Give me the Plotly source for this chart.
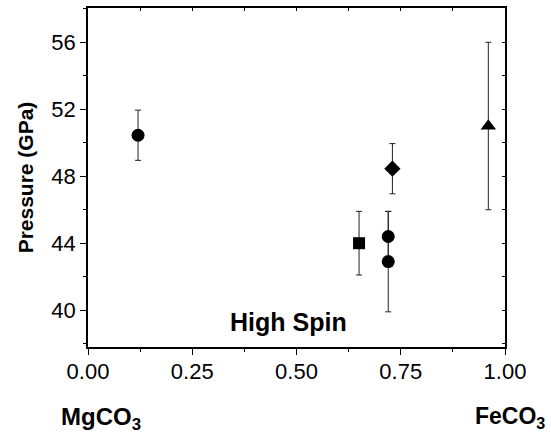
import plotly.graph_objects as go

# Data (x = Fe fraction, y = pressure in GPa)
circle_x = [0.12, 0.72, 0.72]
circle_y = [50.45, 44.4, 42.9]
circle_err = [1.5, 1.5, 3.0]

square_x = [0.65]
square_y = [44.0]
square_err = [1.9]

diamond_x = [0.73]
diamond_y = [48.45]
diamond_err = [1.5]

triangle_x = [0.96]
triangle_y = [51.0]
triangle_err = [5.0]

x_ticks = [0.0, 0.25, 0.5, 0.75, 1.0]
x_ticklabels = ["0.00", "0.25", "0.50", "0.75", "1.00"]
y_ticks = [40, 44, 48, 52, 56]

FONT = "Liberation Sans, Arial, sans-serif"

fig = go.Figure()

def add_series(xs, ys, errs, symbol, size):
    fig.add_trace(go.Scatter(
        x=xs, y=ys, mode="markers",
        marker=dict(symbol=symbol, size=size, color="black", line=dict(width=0)),
        error_y=dict(type="data", array=errs, visible=True, color="#222",
                     thickness=1, width=3),
        showlegend=False,
    ))

add_series(circle_x, circle_y, circle_err, "circle", 13)
add_series(square_x, square_y, square_err, "square", 12)
add_series(diamond_x, diamond_y, diamond_err, "diamond", 12.5)
add_series(triangle_x, triangle_y, triangle_err, "triangle-up", 13.5)

# empty trace so the mirrored frame axes (top/right) are drawn
fig.add_trace(go.Scatter(x=[None], y=[None], xaxis="x2", yaxis="y2",
                         mode="markers", showlegend=False, hoverinfo="skip"))

xr = [0, 1]
yr = [37.8, 58.05]

fig.update_layout(
    width=551, height=435,
    margin=dict(l=88, r=46, t=8, b=88),
    paper_bgcolor="white", plot_bgcolor="white",
    font=dict(family=FONT, size=22, color="black"),
    xaxis=dict(
        range=xr, tickvals=x_ticks, ticktext=x_ticklabels, automargin=False,
        showgrid=False, zeroline=False, showline=True, linecolor="black",
        linewidth=1.5, ticks="outside", ticklen=6, tickwidth=1.2, tickcolor="black",
        minor=dict(dtick=0.125, ticks="outside", ticklen=3, tickwidth=1.2, tickcolor="black"),
        tickfont=dict(size=22, family=FONT), ticklabelstandoff=-2,
    ),
    yaxis=dict(
        range=yr, tickvals=y_ticks, automargin=False,
        showgrid=False, zeroline=False, showline=True, linecolor="black",
        linewidth=1.5, ticks="outside", ticklen=6, tickwidth=1.2, tickcolor="black",
        minor=dict(dtick=2, tick0=38, ticks="outside", ticklen=3, tickwidth=1.2, tickcolor="black"),
        tickfont=dict(size=22, family=FONT),
        title=dict(text="<b>Pressure (GPa)</b>", font=dict(size=21, family=FONT), standoff=12),
    ),
    xaxis2=dict(
        range=xr, overlaying="x", side="top", dtick=0.125, tick0=0, automargin=False,
        showgrid=False, zeroline=False, showline=True, linecolor="black", linewidth=1.5,
        ticks="inside", ticklen=3, tickwidth=1.2, tickcolor="black", showticklabels=False,
    ),
    yaxis2=dict(
        range=yr, overlaying="y", side="right", dtick=2, tick0=38, automargin=False,
        showgrid=False, zeroline=False, showline=True, linecolor="black", linewidth=1.5,
        ticks="inside", ticklen=3, tickwidth=1.2, tickcolor="black", showticklabels=False,
    ),
)

fig.add_annotation(x=0.48, y=39.3, xref="x", yref="y", text="<b>High Spin</b>",
                   showarrow=False, font=dict(size=25, family=FONT), xanchor="center", yanchor="middle")
fig.add_annotation(x=0.03, y=-0.212, xref="paper", yref="paper", text="<b>MgCO<sub>3</sub></b>",
                   showarrow=False, font=dict(size=24, family=FONT), xanchor="center", yanchor="middle")
fig.add_annotation(x=1.012, y=-0.207, xref="paper", yref="paper", text="<b>FeCO<sub>3</sub></b>",
                   showarrow=False, font=dict(size=23, family=FONT), xanchor="center", yanchor="middle")

fig.write_html("out.html", config={"displayModeBar": False},
               post_script="document.body.style.margin='0';document.body.style.padding='0';")
